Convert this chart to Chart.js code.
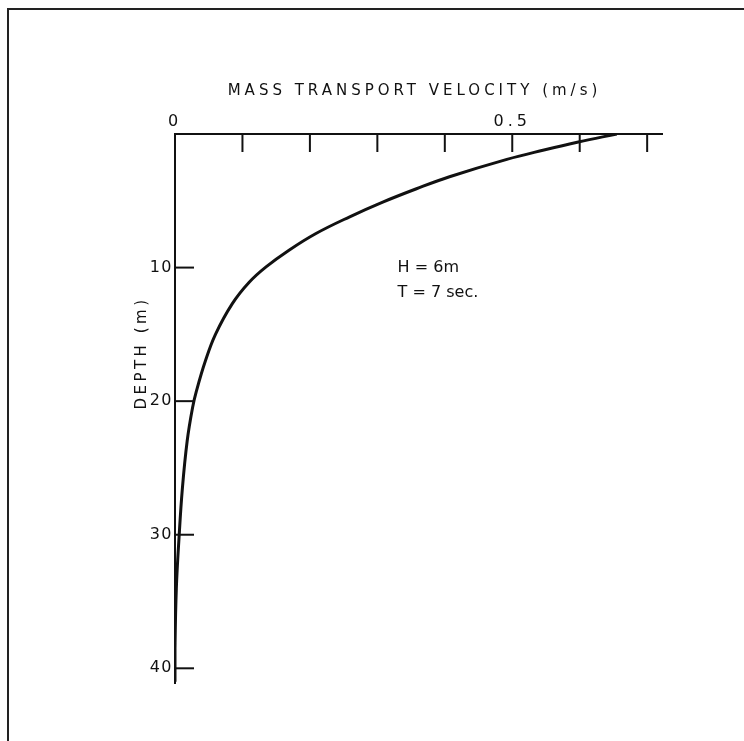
<!DOCTYPE html>
<html>
<head>
<meta charset="utf-8">
<script src="https://cdn.jsdelivr.net/npm/chart.js@4.4.1/dist/chart.umd.min.js"></script>
<style>
  html, body { margin: 0; padding: 0; background: #fff; overflow: hidden; }
  #wrap { position: relative; width: 744px; height: 741px; }
  #frame { position: absolute; left: 7px; top: 8px; width: 800px; height: 800px;
           border-left: 2px solid #222; border-top: 2px solid #222; pointer-events: none; }
</style>
</head>
<body>
<div id="wrap">
  <canvas id="myChart"></canvas>
  <div id="frame"></div>
</div>
<script>
// depth (m) and mass transport velocity (m/s)
const depth = [0, 0.6, 1.2, 1.9, 3.2, 4.1, 5.1, 6.2, 7.45, 8.7, 9.95, 11.1, 12.7, 15, 17, 19.2, 20.5, 23, 26.5, 30.2, 34, 38.5, 41];
const velocity = [0.655, 0.598, 0.547, 0.492, 0.407, 0.358, 0.308, 0.259, 0.209, 0.169, 0.135, 0.110, 0.085, 0.060, 0.045, 0.032, 0.026, 0.018, 0.011, 0.006, 0.002, 0.0, 0.0];

const xTicks = [0, 0.1, 0.2, 0.3, 0.4, 0.5, 0.6, 0.7];
const xLabelled = [0, 0.5];
const yTicks = [10, 20, 30, 40];
const notes = ["H = 6m", "T = 7 sec."];
const xTitle = "MASS TRANSPORT VELOCITY (m/s)";
const yTitle = "DEPTH (m)";

const ink = "#111";
const font = "'DejaVu Sans', sans-serif";

// the lettering is widely spaced on the top axis, tighter on the depth labels
const spacing = {
  id: "spacing",
  beforeUpdate(chart) { chart.ctx.letterSpacing = "1.5px"; },
  beforeDraw(chart) { chart.ctx.letterSpacing = "1.5px"; },
  afterDatasetsDraw(chart) { chart.ctx.letterSpacing = "4px"; },
};

// tick marks point into the plot, like the original figure; axis titles and notes
const innerTicks = {
  id: "innerTicks",
  afterDraw(chart) {
    const ctx = chart.ctx;
    const x = chart.scales.x, y = chart.scales.y;
    ctx.save();
    ctx.strokeStyle = ink;
    ctx.lineWidth = 2;
    x.ticks.forEach(t => {
      if (t.value === 0) return;
      const px = x.getPixelForValue(t.value);
      ctx.beginPath();
      ctx.moveTo(px, x.bottom);
      ctx.lineTo(px, x.bottom + 18);
      ctx.stroke();
    });
    y.ticks.forEach(t => {
      const py = y.getPixelForValue(t.value);
      ctx.beginPath();
      ctx.moveTo(y.right, py);
      ctx.lineTo(y.right + 19, py);
      ctx.stroke();
    });
    ctx.restore();

    // top axis title
    ctx.save();
    ctx.fillStyle = ink;
    ctx.font = "15px " + font;
    ctx.letterSpacing = "4px";
    ctx.textAlign = "center";
    ctx.textBaseline = "middle";
    ctx.fillText(xTitle, (x.left + x.right) / 2 - 4, 91);
    ctx.restore();

    // y axis title, set a bit above the middle as in the figure
    ctx.save();
    ctx.fillStyle = ink;
    ctx.font = "15px " + font;
    ctx.letterSpacing = "3.5px";
    ctx.textAlign = "center";
    ctx.textBaseline = "middle";
    ctx.translate(142, y.getPixelForValue(16.4));
    ctx.rotate(-Math.PI / 2);
    ctx.fillText(yTitle, 0, 0);
    ctx.restore();

    // wave parameters
    ctx.save();
    ctx.fillStyle = ink;
    ctx.font = "16px " + font;
    ctx.letterSpacing = "0px";
    ctx.textAlign = "left";
    ctx.textBaseline = "middle";
    notes.forEach((n, i) => {
      ctx.fillText(n, x.getPixelForValue(0.33), y.getPixelForValue(10 + i * 1.9));
    });
    ctx.restore();
  },
};

const data = {
  datasets: [
    {
      label: "Mass transport velocity",
      data: depth.map((d, i) => ({ x: velocity[i], y: d })),
      borderColor: ink,
      borderWidth: 3,
      pointRadius: 0,
      tension: 0.4,
      fill: false,
    },
  ],
};

const config = {
  type: "line",
  data: data,
  options: {
    responsive: true,
    maintainAspectRatio: false,
    animation: false,
    layout: { padding: { top: 80, left: 0, right: 82, bottom: 58 } },
    plugins: { legend: { display: false }, tooltip: { enabled: false } },
    scales: {
      x: {
        type: "linear",
        position: "top",
        min: 0,
        max: 0.722,
        afterBuildTicks: s => { s.ticks = xTicks.map(v => ({ value: v })); },
        afterFit: s => { s.height = 54; },
        ticks: {
          z: 1,
          color: ink,
          font: { family: font, size: 16 },
          padding: 3,
          maxRotation: 0,
          autoSkip: false,
          callback: v => (xLabelled.includes(v) ? String(v) : ""),
        },
        grid: { display: true, drawOnChartArea: false, drawTicks: false },
        border: { display: true, color: ink, width: 2 },
      },
      y: {
        type: "linear",
        position: "left",
        reverse: true,
        min: 0,
        max: 41.1,
        afterBuildTicks: s => { s.ticks = yTicks.map(v => ({ value: v })); },
        afterFit: s => { s.width = 175; },
        ticks: {
          color: ink,
          font: { family: font, size: 16 },
          padding: 2,
          autoSkip: false,
        },
        grid: { display: true, drawOnChartArea: false, drawTicks: false },
        border: { display: true, color: ink, width: 2 },
      },
    },
  },
  plugins: [spacing, innerTicks],
};

const myChart = new Chart(document.getElementById("myChart"), config);
</script>
</body>
</html>
